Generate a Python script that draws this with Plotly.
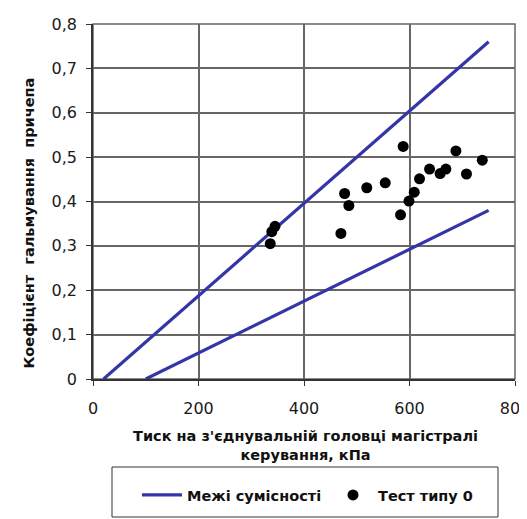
import plotly.graph_objects as go

# Compatibility band limits (kPa, coefficient)
upper_x = [20, 750]
upper_y = [0, 0.76]
lower_x = [100, 750]
lower_y = [0, 0.38]

# Test type 0 points
test_x = [336, 339, 345, 470, 477, 485, 519, 554, 588, 583, 599, 609, 619, 638, 658, 669, 688, 708, 738]
test_y = [0.305, 0.332, 0.344, 0.328, 0.418, 0.391, 0.431, 0.442, 0.524, 0.370, 0.401, 0.421, 0.451, 0.473, 0.463, 0.473, 0.514, 0.462, 0.493]

x_ticks = [0, 200, 400, 600, 800]
y_ticks = [0, 0.1, 0.2, 0.3, 0.4, 0.5, 0.6, 0.7, 0.8]
y_tick_text = ["0", "0,1", "0,2", "0,3", "0,4", "0,5", "0,6", "0,7", "0,8"]

x_title = "<b>Тиск на з'єднувальній головці магістралі<br>керування, кПа</b>"
y_title = "<b>Коефіцієнт  гальмування  причепа</b>"

line_color = "#3535a8"
font_family = "DejaVu Sans, sans-serif"

# The page body adds an 8px offset, so the figure is drawn 8px smaller.
OFF = 8
FW, FH = 527 - OFF, 519 - OFF
# plot area in screen pixels
L, R, T, B = 93, 515, 24, 379
W, H = R - L, B - T


def px(x):
    return (x - L) / W


def py(y):
    return (B - y) / H


fig = go.Figure()
fig.add_trace(go.Scatter(x=upper_x, y=upper_y, mode="lines",
                         line=dict(color=line_color, width=3.2),
                         name="Межі сумісності", legendgroup="band"))
fig.add_trace(go.Scatter(x=lower_x, y=lower_y, mode="lines",
                         line=dict(color=line_color, width=3.2),
                         name="Межі сумісності", legendgroup="band", showlegend=False))
fig.add_trace(go.Scatter(x=test_x, y=test_y, mode="markers",
                         marker=dict(color="black", size=11),
                         name="Тест типу 0"))

fig.update_layout(
    width=FW, height=FH,
    margin=dict(l=L - OFF, r=FW - (R - OFF), t=T - OFF, b=FH - (B - OFF), autoexpand=False),
    paper_bgcolor="white", plot_bgcolor="white",
    font=dict(family=font_family, size=16, color="#1a1a1a"),
    showlegend=True,
    legend=dict(orientation="h", x=px(137), xanchor="left", y=py(495), yanchor="middle",
                borderwidth=0, bgcolor="rgba(0,0,0,0)",
                font=dict(size=14.5, color="#111", family=font_family, weight="bold"),
                entrywidth=136, itemwidth=40, traceorder="normal"),
)
fig.update_xaxes(range=[0, 800], tickvals=x_ticks, showgrid=True, gridcolor="#666", gridwidth=1.5,
                 showline=True, linecolor="#333", linewidth=1.5, automargin=False,
                 ticks="outside", ticklen=5, tickcolor="#333", zeroline=False,
                 ticklabelstandoff=9, ticklabeloverflow="allow")
fig.update_yaxes(range=[0, 0.8], tickvals=y_ticks, ticktext=y_tick_text, showgrid=True,
                 gridcolor="#666", gridwidth=1.5, automargin=False,
                 showline=True, linecolor="#333", linewidth=1.5,
                 ticks="outside", ticklen=5, tickcolor="#333", zeroline=False,
                 ticklabelstandoff=6, ticklabeloverflow="allow")
# axis titles as annotations
fig.add_annotation(text=x_title, xref="paper", yref="paper",
                   x=px(305), y=py(445), xanchor="center", yanchor="middle",
                   showarrow=False, font=dict(size=14.5, color="#111"))
fig.add_annotation(text=y_title, xref="paper", yref="paper",
                   x=px(29), y=py(223.5), xanchor="center", yanchor="middle",
                   textangle=-90, showarrow=False, font=dict(size=14.5, color="#111"))
# top/right border
fig.add_shape(type="rect", xref="paper", yref="paper", x0=0, y0=0, x1=1, y1=1,
              line=dict(color="#666", width=1.5), layer="below")
# legend frame
fig.add_shape(type="rect", xref="paper", yref="paper",
              x0=px(112), x1=px(498), y0=py(517), y1=py(467),
              line=dict(color="#333", width=1))

fig.write_html("out.html")
